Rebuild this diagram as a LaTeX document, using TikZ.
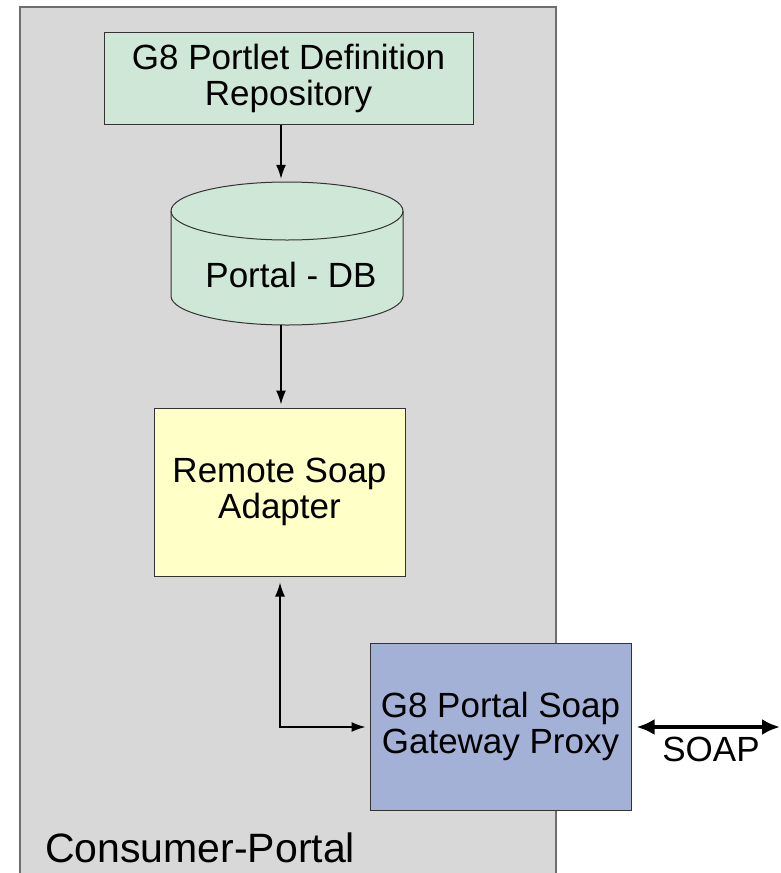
\documentclass[tikz,border=0pt]{standalone}
\usepackage{fontspec}
\setmainfont{Liberation Sans}
\usetikzlibrary{arrows.meta}
\definecolor{pgray}{HTML}{D8D8D8}
\definecolor{pborder}{HTML}{6E6E6E}
\definecolor{pgreen}{HTML}{CFE7D6}
\definecolor{pyellow}{HTML}{FFFFC8}
\definecolor{pblue}{HTML}{A3B1D6}
\begin{document}
\begin{tikzpicture}[x=1pt,y=-1pt,
  boxstyle/.style={draw=black!80,line width=1pt,inner sep=0pt,align=center,
    font=\fontsize{35}{36}\selectfont},
  conn/.style={line width=1.5pt,-{Latex[length=14pt,width=10pt]}},
  lbl/.style={inner sep=0pt,font=\fontsize{35}{36}\selectfont}]
\useasboundingbox (0,0) rectangle (780,873);
% container
\draw[fill=pgray,draw=pborder,line width=1.5pt] (20,890) -- (20,7) -- (556,7) -- (556,890);
\node[lbl,anchor=base west,font=\fontsize{41}{42}\selectfont] (cp) at (45,862) {Consumer-Portal};
% top box
\node[boxstyle,fill=pgreen,minimum width=369pt,minimum height=92pt] (repo) at (288.5,78) {G8 Portlet Definition\\Repository};
% cylinder
\draw[fill=pgreen,draw=black!80,line width=1pt]
  (171,211) -- (171,296) arc[start angle=180,end angle=0,x radius=116,y radius=29]
  -- (403,211) arc[start angle=0,end angle=-180,x radius=116,y radius=29] -- cycle;
\draw[draw=black!80,line width=1pt] (171,211) arc[start angle=180,end angle=0,x radius=116,y radius=29];
\node[inner sep=0pt,minimum width=232pt,minimum height=143pt] (db) at (287,253.5) {};
\node[lbl] (dbtext) at (291,275) {Portal - DB};
% adapter
\node[boxstyle,fill=pyellow,minimum width=251pt,minimum height=168pt] (adapter) at (279.5,492) {Remote Soap\\Adapter};
% gateway
\node[boxstyle,fill=pblue,minimum width=261pt,minimum height=167pt] (gw) at (500.5,726.5) {G8 Portal Soap\\Gateway Proxy};
% connectors
\coordinate (ax) at (281,0);
\draw[conn] (repo.south -| ax) -- ([yshift=3pt]db.north -| ax);
\draw[conn] (db.south -| ax) -- ([yshift=3pt]adapter.north -| ax);
\coordinate (corner) at (280,727);
\draw[line width=1.5pt,{Latex[length=14pt,width=10pt]}-{Latex[length=14pt,width=10pt]}]
  ([yshift=-6pt]adapter.south -| corner) -- (corner) -- ([xshift=-4pt]gw.west |- corner);
\coordinate (soapend) at (780,727);
\draw[line width=4pt,{Latex[length=18pt,width=16pt]}-{Latex[length=18pt,width=16pt]}]
  ([xshift=5pt]gw.east |- soapend) -- (soapend);
\node[lbl,anchor=base] (soap) at (711,761) {SOAP};
\end{tikzpicture}
\end{document}
